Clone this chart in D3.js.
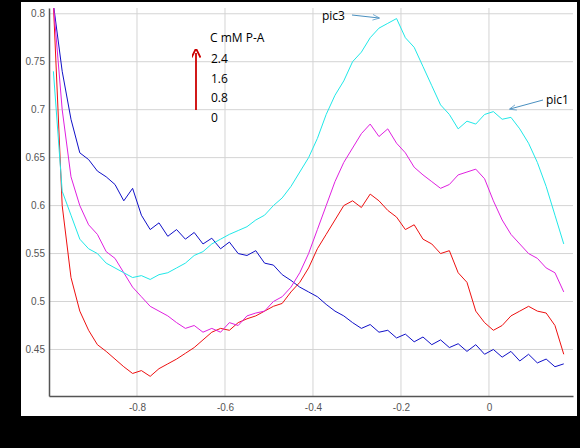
<!DOCTYPE html>
<html><head><meta charset="utf-8">
<script src="https://cdn.jsdelivr.net/npm/d3@7"></script>
<style>body{margin:0;background:#000}</style>
</head><body>
<svg id="chart" width="580" height="448"></svg>
<script>
// potential (V), one sample every 0.02 V
var potential = d3.range(59).map(function(i){ return +(-0.99 + 0.02*i).toFixed(2); });
var yTicks = [0.45, 0.5, 0.55, 0.6, 0.65, 0.7, 0.75, 0.8];
var xTicks = [-0.8, -0.6, -0.4, -0.2, 0];
var concentrations = ["2.4", "1.6", "0.8", "0"];

var c0 = [0.81,0.74,0.69,0.655,0.648,0.636,0.63,0.622,0.605,0.618,0.59,0.575,0.582,0.568,0.575,0.565,0.572,0.56,0.566,0.555,0.562,0.55,0.548,0.553,0.54,0.538,0.528,0.522,0.515,0.51,0.505,0.497,0.49,0.485,0.478,0.472,0.476,0.468,0.47,0.462,0.466,0.458,0.463,0.455,0.46,0.452,0.456,0.448,0.455,0.445,0.45,0.442,0.448,0.438,0.445,0.436,0.44,0.432,0.435];
var c08 = [0.81,0.6,0.525,0.49,0.47,0.455,0.448,0.44,0.432,0.425,0.428,0.422,0.43,0.435,0.44,0.446,0.452,0.46,0.468,0.472,0.47,0.478,0.482,0.485,0.49,0.495,0.498,0.51,0.52,0.535,0.555,0.57,0.585,0.6,0.605,0.598,0.612,0.605,0.595,0.588,0.575,0.58,0.565,0.56,0.55,0.553,0.53,0.52,0.49,0.478,0.47,0.475,0.485,0.49,0.495,0.49,0.488,0.475,0.445];
var c16 = [0.81,0.7,0.63,0.6,0.58,0.57,0.552,0.545,0.53,0.515,0.505,0.495,0.49,0.485,0.478,0.472,0.475,0.468,0.472,0.468,0.478,0.475,0.485,0.488,0.49,0.5,0.505,0.515,0.53,0.55,0.575,0.6,0.625,0.645,0.66,0.675,0.685,0.672,0.68,0.665,0.655,0.64,0.632,0.625,0.618,0.622,0.632,0.635,0.638,0.628,0.605,0.585,0.57,0.56,0.55,0.545,0.535,0.53,0.51];
var c24 = [0.74,0.615,0.59,0.565,0.555,0.55,0.54,0.535,0.53,0.525,0.527,0.523,0.528,0.53,0.535,0.54,0.548,0.552,0.56,0.565,0.57,0.574,0.578,0.585,0.59,0.6,0.608,0.62,0.635,0.65,0.67,0.695,0.715,0.73,0.75,0.76,0.775,0.785,0.79,0.795,0.775,0.765,0.745,0.725,0.705,0.695,0.68,0.688,0.685,0.695,0.698,0.69,0.692,0.68,0.665,0.645,0.62,0.59,0.56];

var series = [
  {name:"0", color:"#1010c8", values:c0},
  {name:"0.8", color:"#ee1010", values:c08},
  {name:"1.6", color:"#e020e0", values:c16},
  {name:"2.4", color:"#20e8e8", values:c24}
];

var svg = d3.select("#chart");
var pLeft = 49, pRight = 573, pTop = 8, pBottom = 396;

svg.append("rect").attr("x",21).attr("y",2).attr("width",556).attr("height",414).attr("fill","#fff");

var x = d3.scaleLinear().domain([-1.0, 0.191]).range([pLeft, pRight]);
var y = d3.scaleLinear().domain([0.4015, 0.806]).range([pBottom, pTop]);

var defs = svg.append("defs");
defs.append("clipPath").attr("id","clip").append("rect")
  .attr("x",pLeft).attr("y",pTop).attr("width",pRight-pLeft).attr("height",pBottom-pTop);
defs.append("marker").attr("id","redhead").attr("viewBox","0 0 10 10").attr("refX",5).attr("refY",5)
  .attr("markerWidth",5).attr("markerHeight",5).attr("orient","auto")
  .append("path").attr("d","M0,0 L10,5 L0,10").attr("fill","none").attr("stroke","#c00").attr("stroke-width",2);
defs.append("marker").attr("id","thinhead").attr("viewBox","0 0 10 10").attr("refX",9).attr("refY",5)
  .attr("markerWidth",7).attr("markerHeight",7).attr("orient","auto")
  .append("path").attr("d","M0,1 L10,5 L0,9").attr("fill","none").attr("stroke","#4a90c0").attr("stroke-width",1);

// grid
svg.append("g").selectAll("line").data(yTicks).enter().append("line")
  .attr("x1",pLeft).attr("x2",pRight).attr("y1",function(d){return y(d);}).attr("y2",function(d){return y(d);})
  .attr("stroke","#d4d4d4");
svg.append("g").selectAll("line").data(xTicks).enter().append("line")
  .attr("y1",pTop).attr("y2",pBottom).attr("x1",function(d){return x(d);}).attr("x2",function(d){return x(d);})
  .attr("stroke","#d4d4d4");

// curves
var line = d3.line().x(function(d,i){return x(potential[i]);}).y(function(d){return y(d);});
svg.append("g").attr("clip-path","url(#clip)").selectAll("path").data(series).enter().append("path")
  .attr("d",function(s){return line(s.values);})
  .attr("fill","none").attr("stroke",function(s){return s.color;}).attr("stroke-width",1);

// axes
var fmt = function(d){ return String(d); };
var yAxis = svg.append("g").attr("transform","translate("+pLeft+",0)")
  .call(d3.axisLeft(y).tickValues(yTicks).tickSize(0).tickPadding(4).tickFormat(fmt));
var xAxis = svg.append("g").attr("transform","translate(0,"+pBottom+")")
  .call(d3.axisBottom(x).tickValues(xTicks).tickSize(0).tickPadding(8).tickFormat(fmt));
[xAxis, yAxis].forEach(function(a){
  a.select(".domain").attr("stroke","#555").attr("stroke-width",1.5);
  a.selectAll("text").attr("fill","#555").attr("font-family","Liberation Sans, Arial").attr("font-size",10);
});

// titles (black on black, as in the source)
svg.append("text").attr("x",330).attr("y",424).attr("text-anchor","middle").attr("font-weight","bold")
  .attr("font-family","Liberation Sans").attr("font-size",11).attr("fill","#000").text("Potential [V]");
svg.append("text").attr("transform","translate(18,205) rotate(-90)").attr("text-anchor","middle").attr("font-weight","bold")
  .attr("font-family","Liberation Sans").attr("font-size",11).attr("fill","#000").text("I(mA/cm²)");

// legend annotation
var ann = svg.append("g").attr("font-family","Open Sans, Liberation Sans").attr("font-size",12).attr("fill","#000");
ann.append("text").attr("x",210).attr("y",42).text("C mM P-A");
ann.selectAll(".c").data(concentrations).enter().append("text")
  .attr("x",211).attr("y",function(d,i){return 63 + i*19.7;}).text(function(d){return d;});
svg.append("line").attr("x1",196).attr("y1",110).attr("x2",196).attr("y2",53)
  .attr("stroke","#c00").attr("stroke-width",1.8).attr("marker-end","url(#redhead)");

ann.append("text").attr("x",322).attr("y",20).text("pic3");
svg.append("line").attr("x1",352).attr("y1",15).attr("x2",379).attr("y2",18)
  .attr("stroke","#4a90c0").attr("marker-end","url(#thinhead)");
ann.append("text").attr("x",546).attr("y",104).text("pic1");
svg.append("line").attr("x1",543).attr("y1",100).attr("x2",510).attr("y2",109)
  .attr("stroke","#4a90c0").attr("marker-end","url(#thinhead)");
</script>
</body></html>
